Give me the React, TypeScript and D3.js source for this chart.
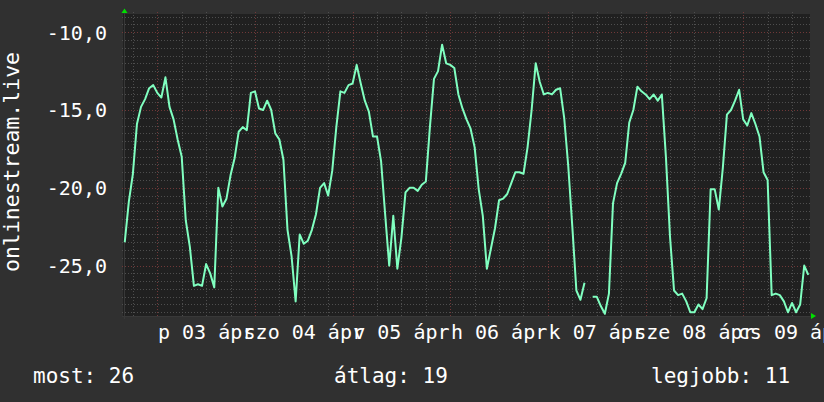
import * as d3 from "d3";

// hourly readings, starting 2 Apr 16:00 (null = missing sample)
const temps: (number | null)[] = [
  -23.5, -20.9, -19.1, -15.9, -14.8, -14.3, -13.6, -13.4, -13.9, -14.2,
  -12.9, -14.8, -15.6, -16.9, -18.0, -22.1, -23.8, -26.3, -26.2, -26.3,
  -24.9, -25.5, -26.4, -20.0, -21.2, -20.7, -19.2, -18.1, -16.4, -16.1,
  -16.3, -13.9, -13.8, -14.9, -15.0, -14.4, -15.0, -16.5, -16.9, -18.2,
  -22.7, -24.4, -27.3, -23.0, -23.6, -23.4, -22.7, -21.7, -20.0, -19.7,
  -20.5, -18.9, -16.1, -13.8, -13.9, -13.4, -13.3, -12.1, -13.3, -14.4,
  -15.1, -16.7, -16.7, -18.3, -21.7, -25.0, -21.8, -25.2, -23.2, -20.3,
  -20.0, -20.0, -20.2, -19.8, -19.6, -16.1, -13.0, -12.5, -10.8, -12.0,
  -12.1, -12.3, -14.0, -14.9, -15.6, -16.2, -17.4, -20.1, -21.8, -25.2,
  -23.9, -22.6, -20.8, -20.7, -20.4, -19.7, -19.0, -19.0, -19.1, -17.4,
  -15.0, -12.0, -13.2, -14.0, -13.9, -14.0, -13.7, -13.6, -15.5, -18.6,
  -22.5, -26.6, -27.2, -26.1, null, -27.0, -27.0, -27.6, -28.1, -26.8,
  -21.0, -19.7, -19.1, -18.4, -15.8, -15.0, -13.5, -13.8, -14.0, -14.3,
  -14.0, -14.4, -14.0, -18.0, -23.1, -26.6, -26.9, -26.8, -27.3, -28.0,
  -28.0, -27.5, -27.8, -27.1, -20.1, -20.1, -21.4, -18.7, -15.3, -15.0,
  -14.4, -13.7, -15.6, -16.0, -15.2, -15.9, -16.7, -19.0, -19.5, -26.9,
  -26.8, -26.9, -27.3, -28.0, -27.4, -28.0, -27.5, -25.0, -25.6,
];

const dayLabels = [
  "p 03 ápr",
  "szo 04 ápr",
  "v 05 ápr",
  "h 06 ápr",
  "k 07 ápr",
  "sze 08 ápr",
  "cs 09 ápr",
];

const yTitle = "onlinestream.live";
const legendNames = ["most", "átlag", "legjobb"];

const W = 824;
const H = 402;
const plot = { left: 124, right: 810, top: 14, bottom: 316 };
const FONT = "DejaVu Sans Mono";

const firstSample = new Date(2020, 3, 2, 16, 0);
const tStart = new Date(2020, 3, 2, 15, 49);
const tEnd = new Date(2020, 3, 9, 16, 25);

export default function App() {
  const x = d3.scaleTime().domain([tStart, tEnd]).range([plot.left, plot.right]);
  const y = d3.scaleLinear().domain([-28.24, -8.83]).range([plot.bottom, plot.top]);

  const points = temps.map((v, i) => ({
    t: d3.timeHour.offset(firstSample, i),
    v,
  }));

  const line = d3
    .line<{ t: Date; v: number | null }>()
    .defined((d) => d.v != null)
    .x((d) => x(d.t))
    .y((d) => y(d.v as number));

  const minorY = d3.range(-28, -8.9, 0.5);
  const majorY = y.ticks(4);
  const minorX = d3.timeHour.every(6)!.range(tStart, tEnd);
  const majorX = d3.timeDay.range(tStart, tEnd);
  const noons = majorX.map((d) => d3.timeHour.offset(d, 12));

  const fmt = (v: number) => d3.format(".1f")(v).replace(".", ",").replace("−", "-");

  const vals = temps.filter((v) => v != null) as number[];
  const now = Math.round(Math.abs(vals[vals.length - 1]));
  const avg = Math.round(Math.abs(d3.mean(vals)!));
  const best = Math.round(Math.abs(d3.max(vals)!));
  const legendVals = [now, avg, best];
  const legendX = [33, 334, 651];

  const px = (v: number) => Math.round(v) + 0.5;

  return (
    <svg
      width={W}
      height={H}
      style={{ position: "absolute", left: 0, top: 0 }}
      fontFamily={FONT}
    >
      <rect width={W} height={H} fill="#303030" />
      <rect
        x={plot.left - 1}
        y={plot.top}
        width={plot.right - plot.left + 1}
        height={plot.bottom - plot.top}
        fill="#202020"
      />

      {/* minor grid */}
      <g stroke="#4e4e4e" strokeWidth={1} strokeDasharray="1,2" shapeRendering="crispEdges">
        {minorY.map((v) => (
          <line key={"hy" + v} x1={plot.left - 2} x2={plot.right + 2} y1={px(y(v))} y2={px(y(v))} />
        ))}
        {minorX.map((d) => (
          <line key={"hx" + +d} x1={px(x(d))} x2={px(x(d))} y1={plot.top - 2} y2={plot.bottom + 2} />
        ))}
      </g>
      {/* major grid */}
      <g stroke="#703838" strokeWidth={1} strokeDasharray="1,2" shapeRendering="crispEdges">
        {majorY.map((v) => (
          <line key={"my" + v} x1={plot.left - 2} x2={plot.right + 2} y1={px(y(v))} y2={px(y(v))} />
        ))}
        {majorX.map((d) => (
          <line key={"mx" + +d} x1={px(x(d))} x2={px(x(d))} y1={plot.top - 2} y2={plot.bottom + 2} />
        ))}
      </g>

      {/* axes */}
      <g stroke="#383838" strokeWidth={1} shapeRendering="crispEdges">
        <line x1={plot.left + 0.5} x2={plot.left + 0.5} y1={plot.top - 3} y2={plot.bottom + 3} />
        <line x1={plot.left - 2} x2={plot.right + 3} y1={plot.bottom + 0.5} y2={plot.bottom + 0.5} />
      </g>
      <polygon points={`${plot.left - 2.5},13 ${plot.left + 3.5},13 ${plot.left + 0.5},8.5`} fill="#00e000" />
      <polygon points={`${plot.right + 1},313 ${plot.right + 1},319 ${plot.right + 6},316`} fill="#00e000" />

      {/* data line */}
      <path d={line(points) || ""} fill="none" stroke="#80ffc0" strokeWidth={2} strokeLinejoin="round" />

      {/* y tick labels */}
      <g fill="#ffffff" fontSize={20} textAnchor="end">
        {majorY.map((v) => (
          <text key={"yl" + v} x={107} y={y(v) + 7.3}>
            {fmt(v)}
          </text>
        ))}
      </g>

      {/* x tick labels */}
      <g fill="#ffffff" fontSize={20} textAnchor="middle">
        {noons.map((d, i) => (
          <text key={"xl" + i} x={x(d)} y={339}>
            {dayLabels[i]}
          </text>
        ))}
      </g>

      <text
        transform="translate(19,162) rotate(-90)"
        textAnchor="middle"
        fill="#ffffff"
        fontSize={21.5}
      >
        {yTitle}
      </text>

      <g fill="#ffffff" fontSize={21}>
        {legendNames.map((n, i) => (
          <text key={n} x={legendX[i]} y={383}>
            {`${n}: ${legendVals[i]}`}
          </text>
        ))}
      </g>
    </svg>
  );
}
